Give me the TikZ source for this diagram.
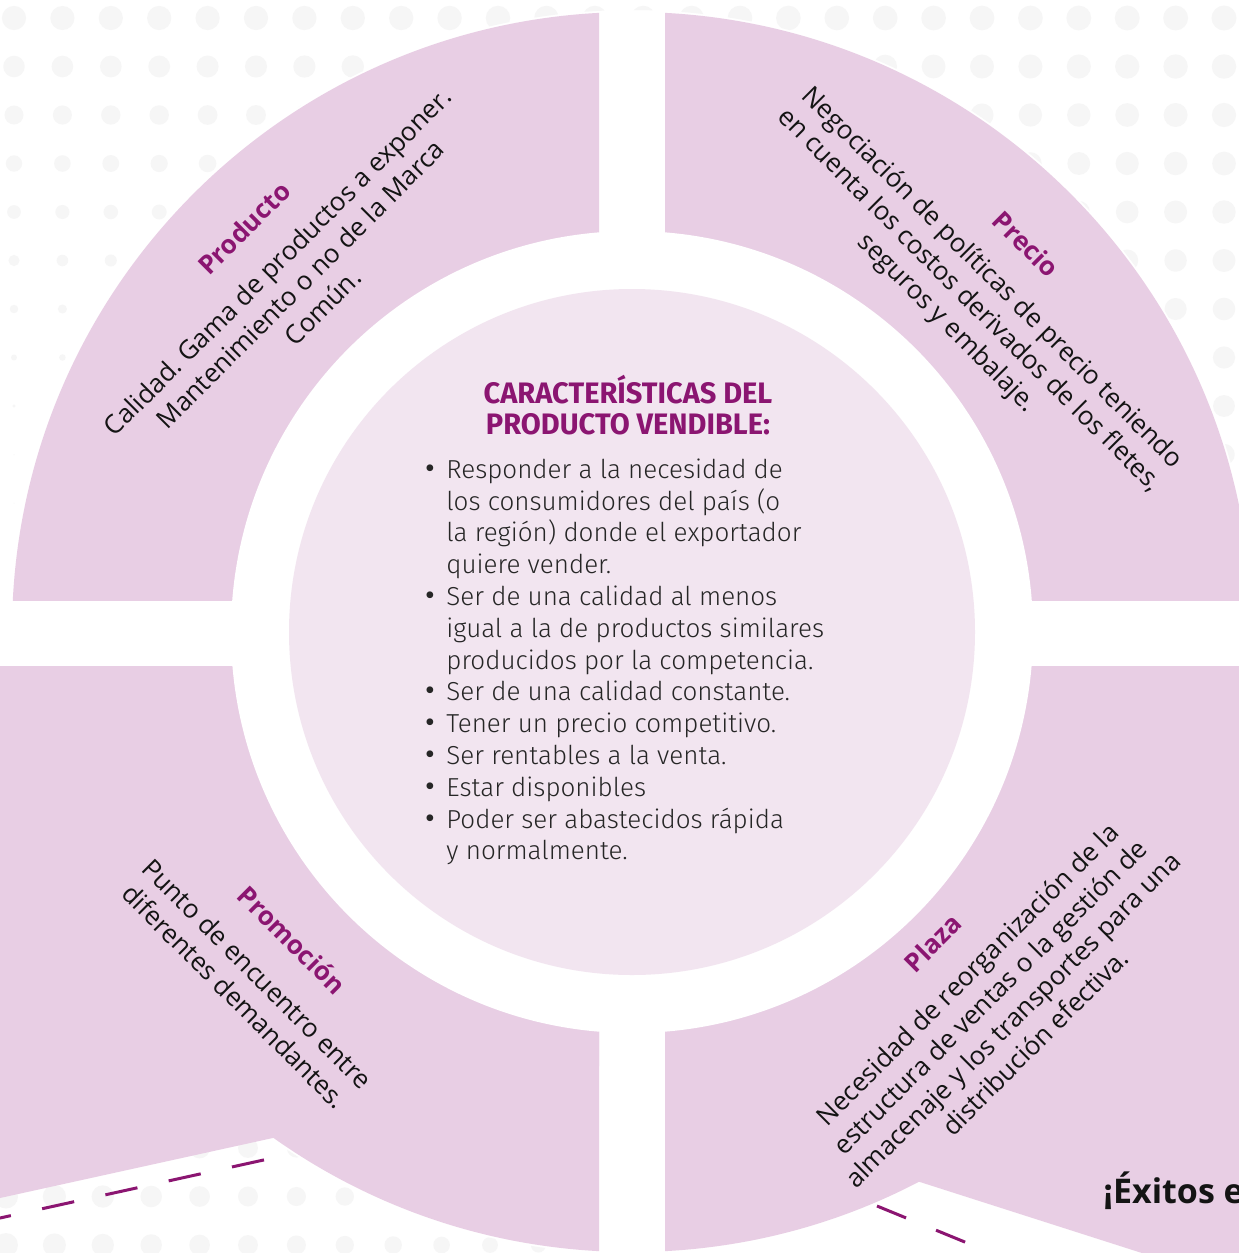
\documentclass[tikz,border=0pt]{standalone}
\usepackage{fontspec}
\setmainfont{Open Sans}
\newfontfamily\opensans{Open Sans}
\newfontfamily\firalight{Fira Sans Light}
\newfontfamily\firabold{Fira Sans}[FakeStretch=0.98]
\newfontfamily\firareg{Fira Sans}
\definecolor{band}{RGB}{232,206,228}
\definecolor{innerc}{RGB}{242,229,240}
\definecolor{purp}{RGB}{139,21,113}
\definecolor{dotc}{RGB}{246,246,246}
\definecolor{bodyc}{RGB}{38,38,38}
\tikzset{
  ctitle/.style={font=\firabold\bfseries\fontsize{14.8}{15.5}\selectfont, text=purp, align=center, inner sep=0pt},
  cline/.style={font=\firalight\fontsize{13}{16}\selectfont, text=bodyc, inner sep=0pt, anchor=base west},
  cbullet/.style={font=\firareg\fontsize{15}{16}\selectfont, text=bodyc, inner sep=0pt, anchor=base},
  qtitle/.style={font=\opensans\bfseries\fontsize{13}{15}\selectfont, text=purp, inner sep=0pt},
  qbody/.style={font=\opensans\fontsize{13}{16}\selectfont, text=black!92, align=center, inner sep=0pt},
  dashline/.style={draw=purp, line width=1.5pt}
}
\begin{document}
\frenchspacing
\begin{tikzpicture}[x=0.5pt,y=-0.5pt]
\useasboundingbox (0,0) rectangle (1238,1253);
\fill[white] (0,0) rectangle (1238,1253);
% background dots
\begin{scope}[even odd rule]
  \clip (-20,-20) rectangle (1260,1280) (632,632) circle [radius=311pt];
  \foreach \k in {0,...,10} {
    \foreach \j in {0,...,25} {
      \pgfmathsetmacro\xx{14+48.4*\j}
      \pgfmathsetmacro\yy{18+48.5*\k}
      \pgfmathsetmacro\rr{max(1,25-(\yy/407)*(19*(1-\xx/1238)+3))/4}
      \fill[dotc] (\xx,\yy) circle [radius=\rr pt];
    }
  }
  \foreach \k in {0,1,2} {
    \foreach \j in {0,...,12} {
      \pgfmathsetmacro\xx{6+48.4*\j}
      \pgfmathsetmacro\yy{1148+48.5*\k}
      \pgfmathsetmacro\rr{max(2,24-\xx/60)/4}
      \fill[dotc] (\xx,\yy) circle [radius=\rr pt];
    }
  }
\end{scope}
% top-left band
\begin{scope}
  \clip (-20,-20) rectangle (599,600);
  \fill[band] (632,632) circle [radius=310pt];
\end{scope}
% top-right band
\begin{scope}
  \clip (665,-20) rectangle (1260,600);
  \fill[band] (632,632) circle [radius=310pt];
\end{scope}
% bottom-left
\begin{scope}
  \clip (-20,666) rectangle (599,1280);
  \fill[band] (632,632) circle [radius=310pt];
  \fill[band] (-20,1202.4) -- (700,1044) -- (700,600) -- (-20,600) -- cycle;
\end{scope}
% bottom-right
\begin{scope}
  \clip (665,666) rectangle (1260,1280);
  \fill[band] (632,632) circle [radius=310pt];
  \fill[band] (500,1047.6) -- (1260,1290.8) -- (1260,600) -- (500,600) -- cycle;
\end{scope}
% gaps and centre
\fill[white] (632,632) circle [radius=200.5pt];
\fill[innerc] (632,632) circle [radius=171.5pt];
% dashed lines
\draw[dashline, dash pattern=on 16.4pt off 16pt] (264,1159.9) -- (-20,1222.4);
\draw[dashline, dash pattern=on 15.7pt off 16.2pt] (877,1206) -- (1060,1281);
% centre texts
\node[ctitle] (ttl) at (628,405.5) {CARACTERÍSTICAS DEL\\PRODUCTO VENDIBLE:};
\node[cline] (l1) at (446,478.3) {Responder a la necesidad de};
\node[cline] (l2) at (446,510.1) {los consumidores del país (o};
\node[cline] (l3) at (446,541.9) {la región) donde el exportador};
\node[cline] (l4) at (446,573.7) {quiere vender.};
\node[cline] (l5) at (446,605.5) {Ser de una calidad al menos};
\node[cline] (l6) at (446,637.3) {igual a la de productos similares};
\node[cline] (l7) at (446,669.1) {producidos por la competencia.};
\node[cline] (l8) at (446,700.9) {Ser de una calidad constante.};
\node[cline] (l9) at (446,732.7) {Tener un precio competitivo.};
\node[cline] (l10) at (446,764.5) {Ser rentables a la venta.};
\node[cline] (l11) at (446,796.3) {Estar disponibles};
\node[cline] (l12) at (446,828.1) {Poder ser abastecidos rápida};
\node[cline] (l13) at (446,859.9) {y normalmente.};
\node[cbullet] (b1) at (430,478.3) {•};
\node[cbullet] (b2) at (430,605.5) {•};
\node[cbullet] (b3) at (430,700.9) {•};
\node[cbullet] (b4) at (430,732.7) {•};
\node[cbullet] (b5) at (430,764.5) {•};
\node[cbullet] (b6) at (430,796.3) {•};
\node[cbullet] (b7) at (430,828.1) {•};
% quadrant texts
\node[qtitle, rotate=45] (prodt) at (244,228) {Producto};
\node[qbody, rotate=45] (prodb) at (300,284) {Calidad. Gama de productos a exponer.\\Mantenimiento o no de la Marca\\Común.};
\node[qtitle, rotate=-45] (prect) at (1026,244) {Precio};
\node[qbody, rotate=-45] (precb) at (969,301) {Negociación de políticas de precio teniendo\\en cuenta los costos derivados de los fletes,\\seguros y embalaje.};
\node[qtitle, rotate=-45] (promt) at (292,940) {Promoción};
\node[qbody, rotate=-45] (promb) at (246,985) {Punto de encuentro entre\\diferentes demandantes.};
\node[qtitle, rotate=45] (plazt) at (933,943) {Plaza};
\node[qbody, rotate=45] (plazb) at (1001,1008) {Necesidad de reorganización de la\\estructura de ventas o la gestión de\\almacenaje y los transportes para una\\distribución efectiva.};
\node[anchor=base west, font=\opensans\bfseries\fontsize{17}{20}\selectfont, text=black!92, inner sep=0pt] (exit) at (1103,1203) {¡Éxitos e};
\end{tikzpicture}
\end{document}
